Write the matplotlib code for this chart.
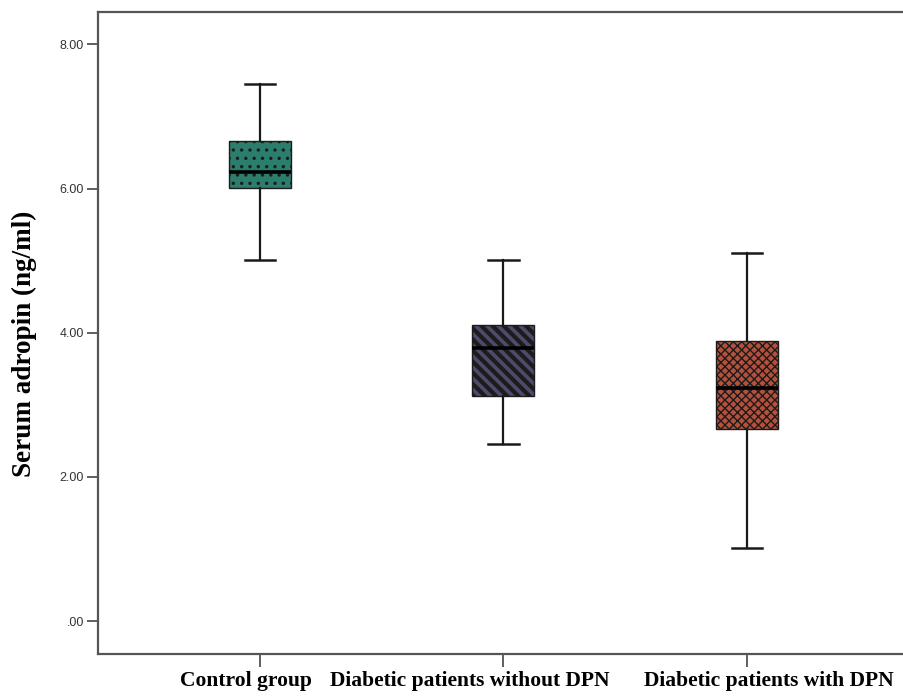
import matplotlib
matplotlib.use("Agg")
import matplotlib.pyplot as plt
import matplotlib.transforms as mtransforms

groups = ["Control group", "Diabetic patients without DPN", "Diabetic patients with DPN"]
whisker_low = [5.01, 2.45, 1.01]
q1 = [6.01, 3.12, 2.67]
median = [6.23, 3.79, 3.24]
q3 = [6.66, 4.11, 3.89]
whisker_high = [7.45, 5.01, 5.11]
y_ticks = [0, 2, 4, 6, 8]
y_tick_labels = [".00", "2.00", "4.00", "6.00", "8.00"]

face_colors = ["#2b7d6c", "#4d4a6c", "#b4503c"]
hatches = ["..", "\\\\\\", "xxxx"]
hatch_widths = [1.2, 3.0, 1.0]
# horizontal shift of each category label (points), as laid out in the original
label_shift = [-10, -24, 16]

stats = []
for i, name in enumerate(groups):
    stats.append(dict(label=name, whislo=whisker_low[i], q1=q1[i], med=median[i],
                      q3=q3[i], whishi=whisker_high[i], fliers=[]))

fig = plt.figure(figsize=(9.04, 6.97), dpi=100)
ax = fig.add_axes([0.1084, 0.0617, 0.8916, 0.9211])

bp = ax.bxp(stats, positions=[1, 2, 3], widths=0.255, capwidths=0.125,
            patch_artist=True, showfliers=False,
            boxprops=dict(linewidth=1.0),
            whiskerprops=dict(color="#1a1a1a", linewidth=1.6),
            capprops=dict(color="#1a1a1a", linewidth=1.8),
            medianprops=dict(color="black", linewidth=2.6))

for box, fc, h, hw in zip(bp["boxes"], face_colors, hatches, hatch_widths):
    box.set_facecolor(fc)
    box.set_edgecolor("#1c1c1c")
    box.set_hatch(h)
    if hasattr(box, "set_hatch_linewidth"):
        box.set_hatch_linewidth(hw)
    else:
        box._hatch_linewidth = hw

ax.set_xlim(0.335, 3.645)
ax.set_ylim(-0.457, 8.45)
ax.set_yticks(y_ticks)
ax.set_yticklabels(y_tick_labels, fontsize=9, family="Liberation Sans", color="#333333")
ax.set_xticks([1, 2, 3])
ax.set_xticklabels(groups, fontsize=15.5, family="Liberation Serif", fontweight="bold")
ax.tick_params(axis="y", length=8, width=1.2, color="#444444", pad=2)
ax.tick_params(axis="x", length=9, width=1.2, color="#444444", pad=3)

for lab, dx in zip(ax.get_xticklabels(), label_shift):
    off = mtransforms.ScaledTranslation(dx / 72, 0, fig.dpi_scale_trans)
    lab.set_transform(lab.get_transform() + off)

for side in ["left", "top", "bottom"]:
    ax.spines[side].set_color("#555555")
    ax.spines[side].set_linewidth(1.6)
ax.spines["right"].set_visible(False)

ax.set_ylabel("Serum adropin (ng/ml)", fontsize=19.5, family="Liberation Serif",
              fontweight="bold")
ax.yaxis.set_label_coords(-0.076, 0.483)

fig.savefig("out.png", dpi=100)
